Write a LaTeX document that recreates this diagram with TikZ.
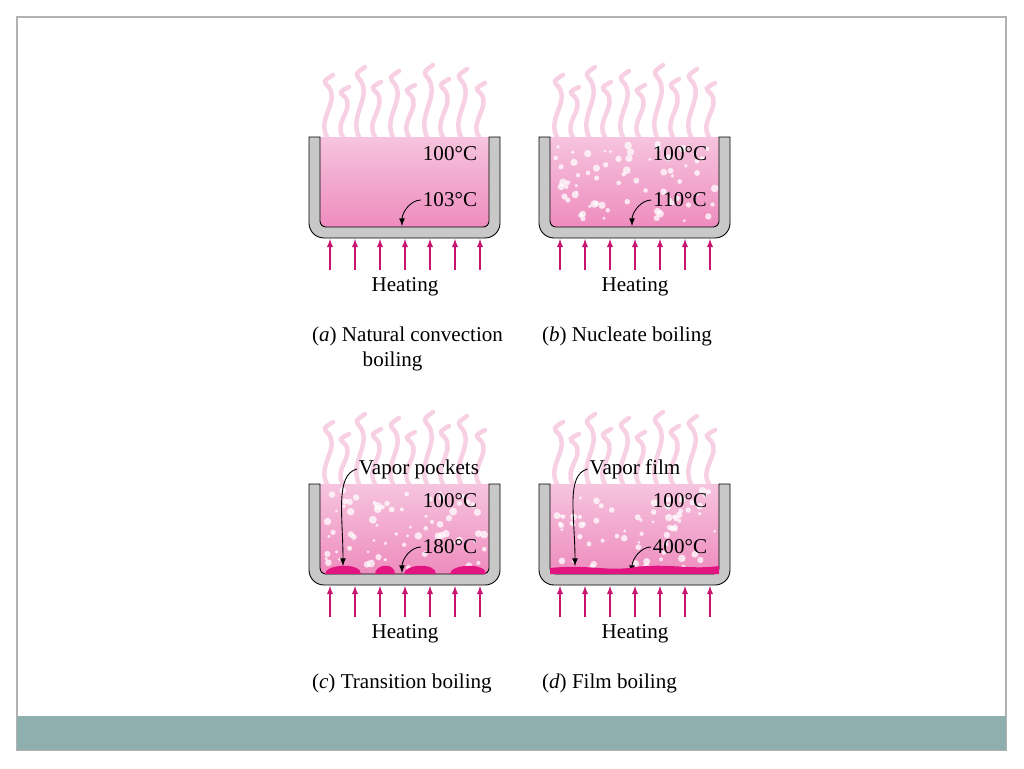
\documentclass[tikz,border=0pt]{standalone}
\usepackage{fontspec}
\setmainfont{Liberation Serif}
\usetikzlibrary{positioning}
\definecolor{pinkA}{RGB}{246,196,222}
\definecolor{pinkB}{RGB}{238,140,190}
\definecolor{wispc}{RGB}{240,170,205}
\definecolor{potgray}{RGB}{200,200,200}
\definecolor{heatc}{RGB}{200,20,110}
\definecolor{pocketc}{RGB}{225,20,130}
\definecolor{bandc}{RGB}{143,174,174}
\tikzset{
        lbl/.style={font=\fontsize{12}{14}\selectfont, inner sep=1pt},
        % pot wall
        potwall/.style={fill=potgray, draw=black, line width=0.5pt},
        % vapor wisps
        wisp/.style={wispc, line width=0.09cm, opacity=0.55, line cap=round},
        % heating arrows
        heatarrow/.style={heatc, line width=0.6pt, -latex},
        % pointer arrows
        pointer/.style={black, line width=0.5pt, -latex},
        bubble/.style={white, opacity=0.75}
}
% pot drawn in local pixel coordinates
\newcommand\potdraw[4]{%
  \foreach \wx/\wh in {18/62,34/50,50/70,66/55,84/66,100/52,118/72,134/58,152/68,170/54}{
    \draw[wisp] (\wx,0) .. controls (\wx-10,-0.3*\wh) and (\wx+12,-0.55*\wh) .. (\wx+2,-0.8*\wh)
      .. controls (\wx-4,-0.9*\wh) .. (\wx+6,-\wh);
  }
  \shade[top color=pinkA, bottom color=pinkB] (11,0) rectangle (180,90);
  \ifnum#4>0
    \pgfmathsetseed{#4}
    \foreach \i in {1,...,70}{
      \pgfmathsetmacro\bx{16+rnd*160}
      \pgfmathsetmacro\by{6+rnd*78}
      \pgfmathsetmacro\br{0.03+rnd*0.05}
      \fill[bubble] (\bx,\by) circle (\br cm);
    }
  \fi
  \draw[potwall] (0,0) {[rounded corners=0.3cm] -- (0,101) -- (191,101)} -- (191,0) -- (180,0)
    {[rounded corners=0.12cm] -- (180,90) -- (11,90)} -- (11,0) -- cycle;
  \foreach \hx in {21,46,71,96,121,146,171}{
    \draw[heatarrow] (\hx,133) -- (\hx,102);
  }
  \node[lbl] (#1heat) at (96,150) {Heating};
  \node[lbl] (#1top) at (141,17) {100°C};
  \node[lbl] (#1bot) at (141,63) {#2};
  \coordinate (#1tip) at (93,89);
  \draw[pointer] (#1bot.west) .. controls +(-10,0) and +(0,-14) .. (#1tip);
  \node[lbl, anchor=north west, align=left] (#1cap) at (1,188) {#3};
}
\begin{document}
\begin{tikzpicture}[x=0.02cm, y=-0.02cm]
\useasboundingbox (0,0) rectangle (1024,768);
\draw[black!30, line width=0.6pt] (17,17) rectangle (1006,750);
\fill[bandc] (17,716) rectangle (1006,750);
% (a)
\begin{scope}[shift={(309,137)}]
  \potdraw{a}{103°C}{(\textit{a}) Natural convection\\\hspace{2.4em}boiling}{0}
\end{scope}
% (b)
\begin{scope}[shift={(539,137)}]
  \potdraw{b}{110°C}{(\textit{b}) Nucleate boiling}{7}
\end{scope}
% (c)
\begin{scope}[shift={(309,484)}]
  \potdraw{c}{180°C}{(\textit{c}) Transition boiling}{13}
  \foreach \px/\pw in {34/18,76/10,111/16,159/18}{
    \fill[pocketc] (\px-\pw,90) .. controls (\px-\pw,80) and (\px+\pw,78) .. (\px+\pw,90) -- cycle;
  }
  \node[lbl] (cvap) at (110,-15) {Vapor pockets};
  \coordinate (cpocket) at (34,82);
  \draw[pointer] (cvap.west) .. controls +(-22,6) and +(0,-50) .. (cpocket);
\end{scope}
% (d)
\begin{scope}[shift={(539,484)}]
  \potdraw{d}{400°C}{(\textit{d}) Film boiling}{21}
  \fill[pocketc] (11,90) -- (11,84) .. controls (50,80) and (70,88) .. (96,83)
    .. controls (130,79) and (150,86) .. (180,82) -- (180,90) -- cycle;
  \node[lbl] (dvap) at (96,-15) {Vapor film};
  \coordinate (dfilm) at (36,82);
  \draw[pointer] (dvap.west) .. controls +(-22,6) and +(0,-50) .. (dfilm);
\end{scope}
\end{tikzpicture}
\end{document}
